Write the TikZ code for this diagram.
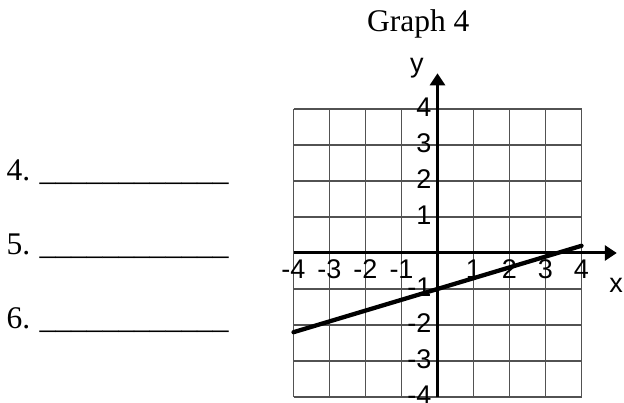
\documentclass[tikz,border=0pt]{standalone}
\usepackage{fontspec}
\setmainfont{Liberation Serif}
\newfontfamily\arialfont{Liberation Sans}
\usetikzlibrary{arrows.meta}
\begin{document}
\begin{tikzpicture}[x=1pt,y=-1pt,
  serif/.style={font=\fontsize{31.5}{37}\selectfont, inner sep=0pt, text=black},
  tick/.style={font=\arialfont\fontsize{27}{31}\selectfont, inner sep=0pt, text=black},
  gridline/.style={draw=black!68, line width=1.6pt},
  axisline/.style={draw=black, line width=3pt, -{Triangle[length=12pt,width=15pt]}},
  graphline/.style={draw=black, line width=4.3pt, line cap=round}]
\useasboundingbox (0,0) rectangle (624,403);
\node[serif, anchor=base] (title) at (418.3,31.7) {Graph 4};
\node[serif, anchor=base west] (q4) at (6.3,180.3) {4.\hspace{9.4pt}\_\_\_\_\_\_\_\_\_\_\_\_};
\node[serif, anchor=base west] (q5) at (6.3,254.5) {5.\hspace{9.4pt}\_\_\_\_\_\_\_\_\_\_\_\_};
\node[serif, anchor=base west] (q6) at (6.3,328.5) {6.\hspace{9.4pt}\_\_\_\_\_\_\_\_\_\_\_\_};
\begin{scope}[shift={(437.5,253)}, x=36pt, y=36pt]
  \draw[gridline, xstep=36pt, ystep=36pt] (-4,-4) grid (4,4);
  \coordinate (xs) at (-4,0);
  \coordinate (xe) at (4.98,0);
  \coordinate (ys) at (0,-4);
  \coordinate (ye) at (0,4.99);
  \draw[axisline] (xs) -- (xe);
  \draw[axisline] (ys) -- (ye);
  \foreach \i in {-4,-3,-2,-1,1,2,3,4} {
    \node[tick, anchor=base] (xl\i) at (\i,-0.722) {\i};
    \node[tick, anchor=base east] (yl\i) at (-0.167,\i-0.215) {\i};
  }
  \node[tick, anchor=base] (xlab) at (4.96,-1.11) {x};
  \node[tick, anchor=base] (ylab) at (-0.57,5.0) {y};
  \coordinate (la) at (-4,-2.2);
  \coordinate (lb) at (4,0.2);
  \draw[graphline] (la) -- (lb);
\end{scope}
\end{tikzpicture}
\end{document}
